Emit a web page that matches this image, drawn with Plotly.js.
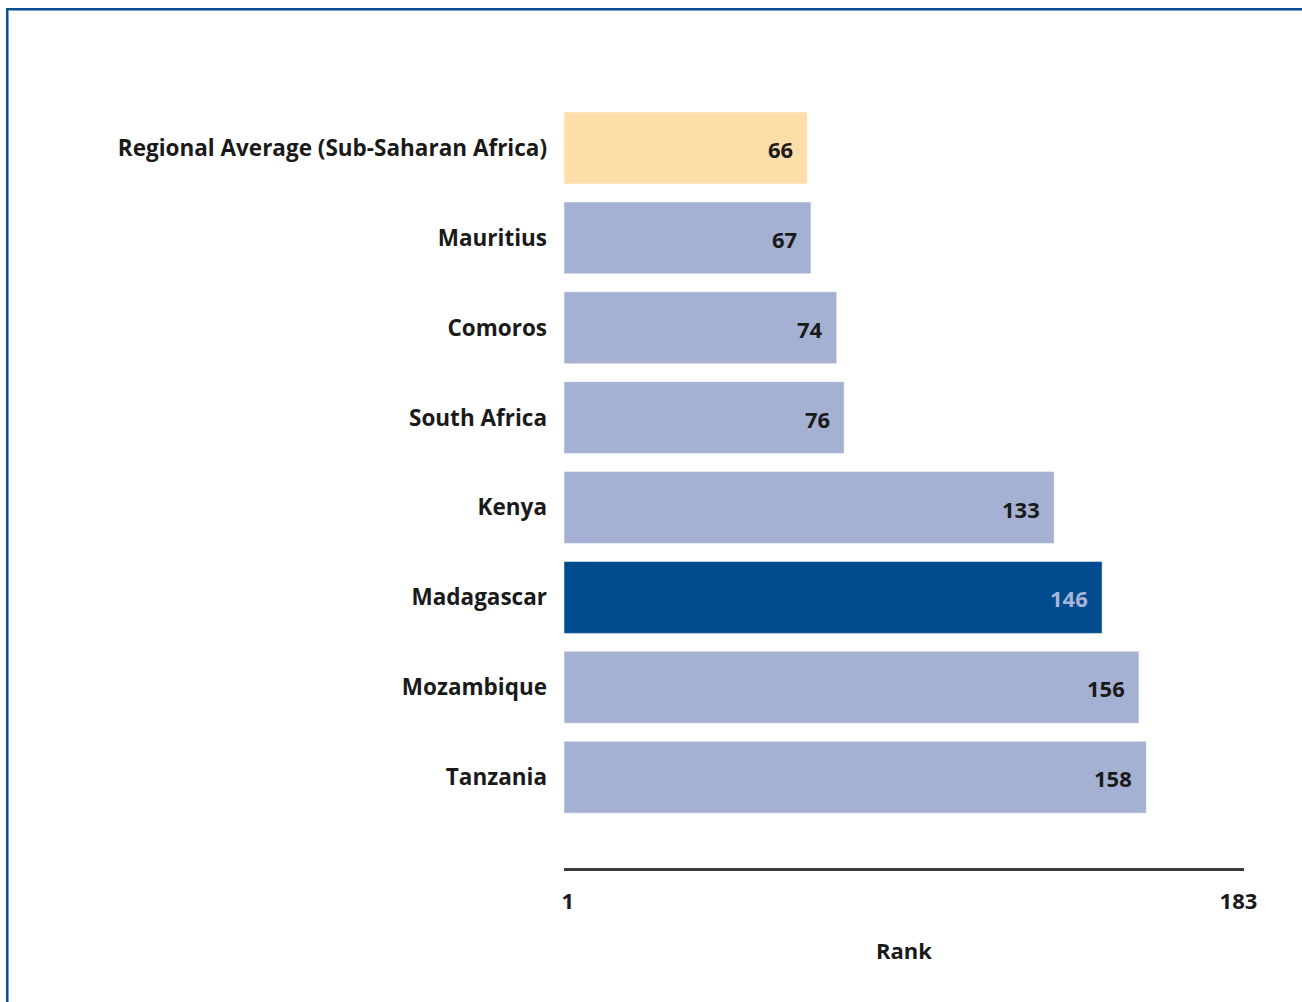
<!DOCTYPE html>
<html>
<head>
<meta charset="utf-8">
<script src="https://cdn.plot.ly/plotly-3.0.1.min.js"></script>
<style>
  html, body { margin: 0; padding: 0; background: #fff; }
  #chart { width: 1302px; height: 1002px; }
  #frame { position: absolute; left: 6px; top: 8px; width: 1296px; height: 994px;
           border-top: 2px solid #0b4f95; border-left: 2px solid #0b4f95;
           box-shadow: inset 1px 1px 0 #7fa3cc; pointer-events: none; z-index: 10; }
</style>
</head>
<body>
<div id="frame"></div>
<div id="chart"></div>
<script>
const countries = ["Regional Average (Sub-Saharan Africa)", "Mauritius", "Comoros", "South Africa",
                   "Kenya", "Madagascar", "Mozambique", "Tanzania"];
const ranks = [66, 67, 74, 76, 133, 146, 156, 158];
const barColors = ["#fddea8", "#a5b1d3", "#a5b1d3", "#a5b1d3", "#a5b1d3", "#004b8d", "#a5b1d3", "#a5b1d3"];
const labelColors = ["#1a1a1a", "#1a1a1a", "#1a1a1a", "#1a1a1a", "#1a1a1a", "#a7b5d8", "#1a1a1a", "#1a1a1a"];
const tickVals = [1, 183];
const tickText = ["1", "183"];

const font = "'Open Sans', 'DejaVu Sans', sans-serif";

const trace = {
  type: "bar",
  orientation: "h",
  y: countries,
  x: ranks,
  width: 0.8,
  marker: { color: barColors, line: { color: "rgba(255,255,255,0.5)", width: 1 } },
  hoverinfo: "x+y"
};

const annotations = countries.map((c, i) => ({
  x: ranks[i], y: c, xref: "x", yref: "y",
  text: String(ranks[i]), showarrow: false,
  xanchor: "right", xshift: -12, yshift: -1,
  font: { family: font, size: 22, color: labelColors[i], weight: "bold" }
}));

const layout = {
  width: 1302, height: 1002,
  margin: { l: 564, r: 58, t: 103, b: 134 },
  paper_bgcolor: "#fff", plot_bgcolor: "#fff",
  showlegend: false,
  bargap: 0.2,
  xaxis: {
    range: [0, 184.5],
    tickvals: tickVals, ticktext: tickText,
    ticks: "", ticklabelstandoff: 12,
    showgrid: false, zeroline: false,
    showline: true, linecolor: "#3a3a3a", linewidth: 2.5,
    tickfont: { family: font, size: 22, color: "#1a1a1a", weight: "bold" },
    title: { text: "Rank", standoff: 30, font: { family: font, size: 22, color: "#1a1a1a", weight: "bold" } },
    fixedrange: true
  },
  yaxis: {
    type: "category",
    categoryorder: "array", categoryarray: countries,
    range: [8.01, -0.5],
    ticks: "", ticklabelstandoff: 16,
    showgrid: false, zeroline: false, showline: false,
    tickfont: { family: font, size: 22.5, color: "#1a1a1a", weight: "bold" },
    fixedrange: true
  },
  annotations: annotations
};

Plotly.newPlot("chart", [trace], layout, { displayModeBar: false, staticPlot: true });
</script>
</body>
</html>
